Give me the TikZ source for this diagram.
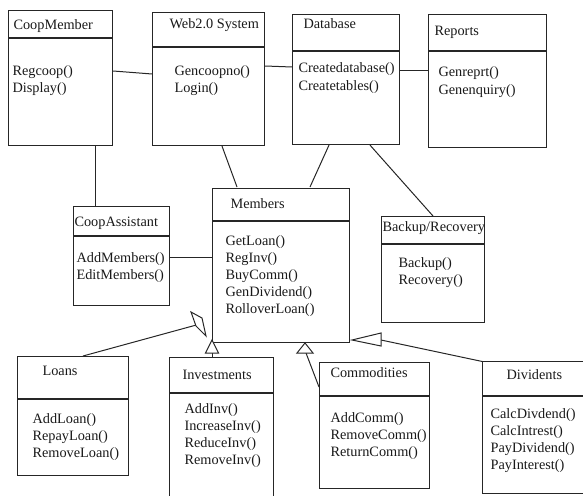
\documentclass[tikz,border=0pt]{standalone}
\usepackage{fontspec}
\setmainfont{Liberation Serif}
\usetikzlibrary{calc}
\begin{document}
\begin{tikzpicture}[x=1pt,y=-1pt,
  line width=1.1pt,
  color=black!85,
  box/.style={draw, line width=1.1pt, inner sep=0pt, anchor=north west},
  openbox/.style={draw=none, inner sep=0pt, outer sep=0pt, anchor=north west,
                  xshift=0.55pt, yshift=-0.55pt},
  txt/.style={anchor=base west, inner sep=0pt, font=\fontsize{14.3}{17}\selectfont, text=black!90},
  link/.style={line width=1pt},
  genhead/.style={line width=1pt, fill=white, line join=miter},
]
\useasboundingbox (0,0) rectangle (583,495);

% ---- class boxes ----
\node[box, minimum width=104pt, minimum height=135pt] (cm) at (8,10) {};
\node[box, minimum width=112pt, minimum height=133pt] (web) at (152,12) {};
\node[box, minimum width=107pt, minimum height=130pt] (db) at (292,14) {};
\node[box, minimum width=118pt, minimum height=133pt] (rep) at (428,14) {};
\node[box, minimum width=96pt, minimum height=99pt] (ca) at (73,206) {};
\node[box, minimum width=137pt, minimum height=154pt] (mem) at (212,188) {};
\node[box, minimum width=103pt, minimum height=106pt] (bk) at (381,216) {};
\node[box, minimum width=111pt, minimum height=119pt] (loan) at (17,356) {};
\node[openbox, minimum width=104pt, minimum height=150pt] (inv) at (169,357) {};
\node[box, minimum width=110pt, minimum height=126pt] (com) at (319,362) {};
\node[openbox, minimum width=110pt, minimum height=131.5pt] (dvd) at (482,361) {};

% open-ended boxes running past the page edge
\draw (inv.south west) -- (inv.north west) -- (inv.north east) -- (inv.south east);
\draw (dvd.north east) -- (dvd.north west) -- (dvd.south west) -- (dvd.south east);

% ---- compartment dividers ----
\draw (cm.west |- 0,38) -- (cm.east |- 0,38);
\draw (web.west |- 0,47) -- (web.east |- 0,47);
\draw (db.west |- 0,51) -- (db.east |- 0,51);
\draw (rep.west |- 0,51) -- (rep.east |- 0,51);
\draw (ca.west |- 0,236) -- (ca.east |- 0,236);
\draw (mem.west |- 0,221) -- (mem.east |- 0,221);
\draw (bk.west |- 0,244) -- (bk.east |- 0,244);
\draw (loan.west |- 0,399) -- (loan.east |- 0,399);
\draw (inv.west |- 0,393) -- (inv.east |- 0,393);
\draw (com.west |- 0,396) -- (com.east |- 0,396);
\draw (dvd.west |- 0,396) -- (dvd.east |- 0,396);

% ---- class names and operations ----
\node[txt] (cmT) at (13,30) {CoopMember};
\node[txt] (cm1) at (12,75) {Regcoop()};
\node[txt] (cm2) at (12,92) {Display()};

\node[txt] (webT) at (169,29) {Web2.0 System};
\node[txt] (web1) at (174,75) {Gencoopno()};
\node[txt] (web2) at (174,92) {Login()};

\node[txt] (dbT) at (303,29) {Database};
\node[txt] (db1) at (298,73) {Createdatabase()};
\node[txt] (db2) at (298,90) {Createtables()};

\node[txt] (repT) at (434,36) {Reports};
\node[txt] (rep1) at (438,77) {Genreprt()};
\node[txt] (rep2) at (438,94) {Genenquiry()};

\node[txt] (caT) at (74,226) {CoopAssistant};
\node[txt] (ca1) at (76,262) {AddMembers()};
\node[txt] (ca2) at (76,279) {EditMembers()};

\node[txt] (memT) at (230,208) {Members};
\node[txt] (mem1) at (225,245) {GetLoan()};
\node[txt] (mem2) at (225,262) {RegInv()};
\node[txt] (mem3) at (225,279) {BuyComm()};
\node[txt] (mem4) at (225,296) {GenDividend()};
\node[txt] (mem5) at (225,313) {RolloverLoan()};

\node[txt] (bkT) at (382,231) {Backup/Recovery};
\node[txt] (bk1) at (398,267) {Backup()};
\node[txt] (bk2) at (398,284) {Recovery()};

\node[txt] (loanT) at (42,375) {Loans};
\node[txt] (loan1) at (32,423) {AddLoan()};
\node[txt] (loan2) at (32,440) {RepayLoan()};
\node[txt] (loan3) at (32,457) {RemoveLoan()};

\node[txt] (invT) at (182,379) {Investments};
\node[txt] (inv1) at (184,413) {AddInv()};
\node[txt] (inv2) at (184,430) {IncreaseInv()};
\node[txt] (inv3) at (184,447) {ReduceInv()};
\node[txt] (inv4) at (184,464) {RemoveInv()};

\node[txt] (comT) at (330,377) {Commodities};
\node[txt] (com1) at (330,422) {AddComm()};
\node[txt] (com2) at (330,439) {RemoveComm()};
\node[txt] (com3) at (330,456) {ReturnComm()};

\node[txt] (dvdT) at (506,379) {Dividents};
\node[txt] (dvd1) at (490,418) {CalcDivdend()};
\node[txt] (dvd2) at (490,435) {CalcIntrest()};
\node[txt] (dvd3) at (490,452) {PayDividend()};
\node[txt] (dvd4) at (490,469) {PayInterest()};

% ---- associations ----
\draw[link] (cm.east |- 0,71) -- (web.west |- 0,74);
\draw[link] (web.east |- 0,66) -- (db.west |- 0,67);
\draw[link] (db.east |- 0,70) -- (rep.west |- 0,70);
\draw[link] (cm.south -| 95,0) -- (ca.north -| 95,0);
\draw[link] (ca.east |- 0,257) -- (mem.west |- 0,257);
\draw[link] (web.south -| 222,0) -- (237,187);
\draw[link] (db.south -| 329,0) -- (310,187);
\draw[link] (db.south -| 370,0) -- (bk.north -| 433,0);

% ---- generalisations towards Members ----
\coordinate (tipLoan) at (200,324);
\coordinate (tipInv) at ($(mem.south west)+(0,-3)$);
\coordinate (tipCom) at (305,343);
\coordinate (tipDvd) at (352,340);

\draw[link] (loan.north -| 83,0) -- (tipLoan);
\draw[genhead] (191,312) -- (202,318) -- (206,336) -- (196,326) -- cycle;

\draw[link] (inv.north -| tipInv) -- ++(0,-5);
\draw[genhead] (tipInv) -- ++(-6.5,13) -- ++(13,0) -- cycle;

\draw[link] (306,353) -- (com.west |- 0,387);
\draw[genhead] (tipCom) -- ++(-8,10) -- ++(16,0) -- cycle;

\draw[link] (381,340) -- (dvd.north west);
\draw[genhead] (tipDvd) -- ++(29,-7) -- ++(0,13) -- cycle;
\end{tikzpicture}
\end{document}
